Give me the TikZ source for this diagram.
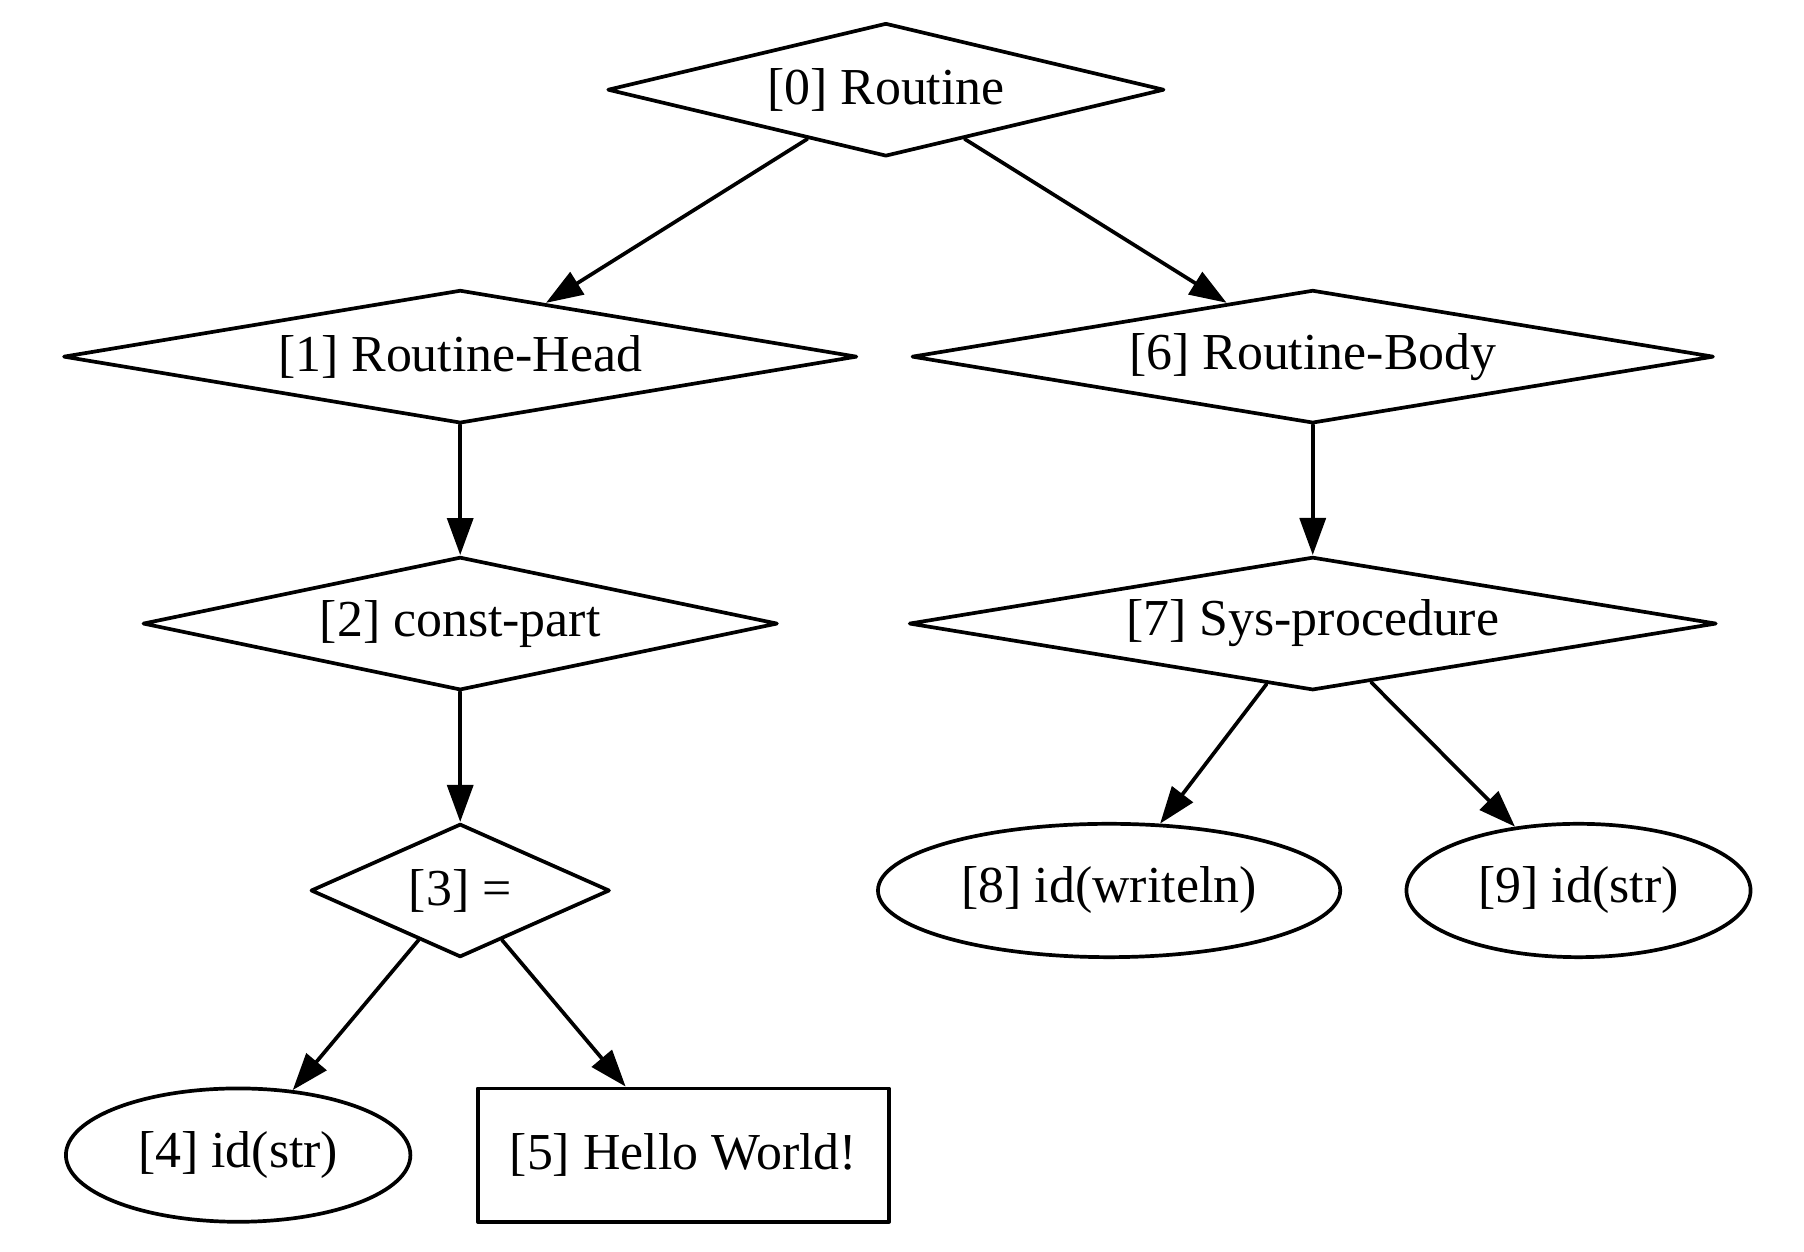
\documentclass[tikz,border=0pt]{standalone}
\usepackage{fontspec}
\setmainfont{Liberation Serif}
\usepackage{tikz}
\usetikzlibrary{arrows.meta}
\usetikzlibrary{shapes.geometric}

\begin{document}
\begin{tikzpicture}[line cap=round,line join=round, x=0.3106pt,y=-0.3106pt,
	every node/.style={font=\fontsize{14}{17}\selectfont, inner sep=1pt, line width=1pt},
	rautenknoten/.style={draw, diamond, minimum height=36pt},
	blattknoten/.style={draw, ellipse, minimum height=36pt},
	textknoten/.style={draw, rectangle, minimum height=36pt},
	kante/.style={-{Triangle[length=10pt,width=7pt]}, line width=1pt}]
	% Rahmen
	\useasboundingbox (0,0) rectangle (1568,1088.2);
	% Knoten
	\node[rautenknoten, minimum width=150.3pt, aspect=4.17] (n0) at (770,78) {[0] Routine};
	\node[rautenknoten, minimum width=214.3pt, aspect=5.95] (n1) at (400,310) {[1] Routine-Head};
	\node[rautenknoten, minimum width=171.4pt, aspect=4.76] (n2) at (400,542) {[2] const-part};
	\node[rautenknoten, minimum width=80.7pt, aspect=2.24] (n3) at (400,774) {[3] =};
	\node[blattknoten, minimum width=93pt] (n4) at (207,1004) {[4] id(str)};
	\node[textknoten, minimum width=111pt] (n5) at (594,1004) {[5] Hello World!};
	\node[rautenknoten, minimum width=216.5pt, aspect=6.01] (n6) at (1141,310) {[6] Routine-Body};
	\node[rautenknoten, minimum width=218pt, aspect=6.06] (n7) at (1141,542) {[7] Sys-procedure};
	\node[blattknoten, minimum width=124.8pt] (n8) at (964,774) {[8] id(writeln)};
	\node[blattknoten, minimum width=92.9pt] (n9) at (1372,774) {[9] id(str)};
	% Kanten
	\draw[kante] (n0) -- (n1);
	\draw[kante] (n0) -- (n6);
	\draw[kante] (n1) -- (n2);
	\draw[kante] (n2) -- (n3);
	\draw[kante] (n3) -- (n4);
	\draw[kante] (n3) -- (n5);
	\draw[kante] (n6) -- (n7);
	\draw[kante] (n7) -- (n8);
	\draw[kante] (n7) -- (n9);
\end{tikzpicture}
\end{document}
